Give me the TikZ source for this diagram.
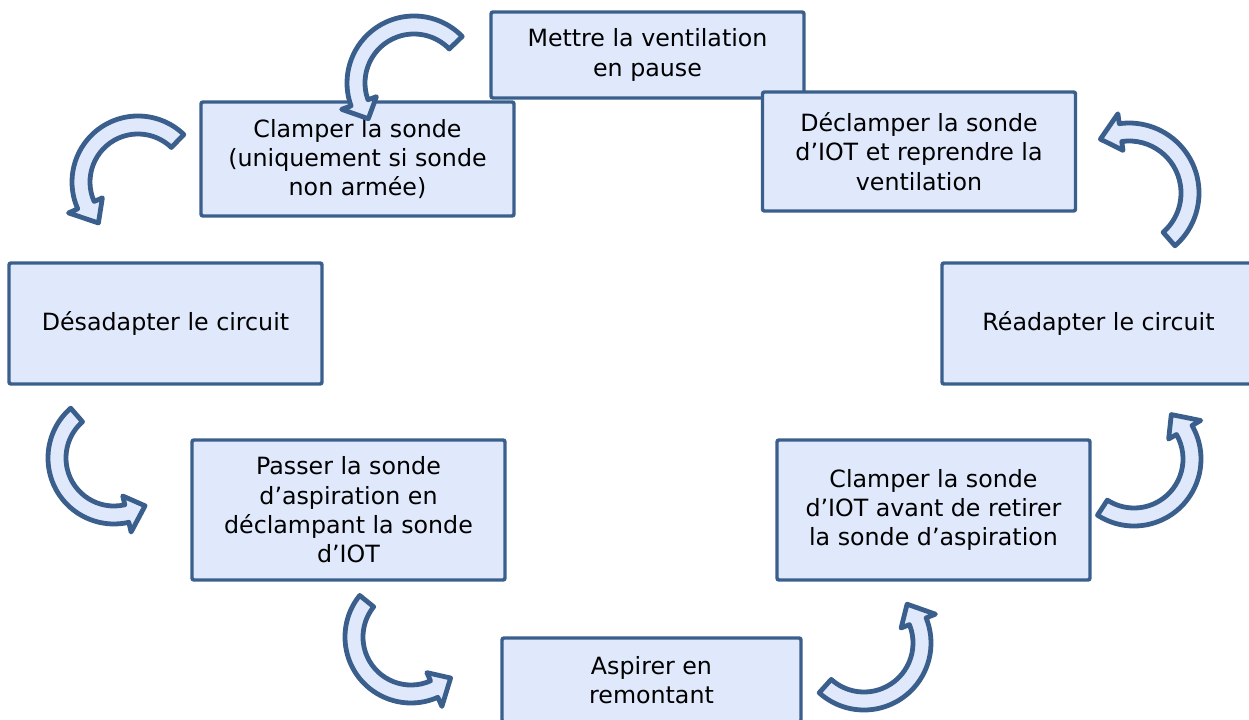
\documentclass[tikz,border=0pt]{standalone}
\usepackage{fontspec}
\setmainfont{DejaVu Sans}
\usetikzlibrary{calc}
\definecolor{bordc}{RGB}{59,95,140}
\definecolor{fillc}{RGB}{224,233,251}
\tikzset{
  box/.style={draw=bordc, fill=fillc, line width=2.6pt, rounded corners=1.5pt,
    align=center, inner sep=0pt, minimum width=234.75pt,
    font=\fontsize{17.8}{22}\selectfont},
  carrow/.style={draw=bordc, fill=fillc, line width=3.6pt, line join=round}
}
% #1 centre, #2 radius, #3 tail angle, #4 head base angle, #5 tip angle
\newcommand\circarrow[5]{%
  \pgfmathsetmacro\cro{#2+9}%
  \pgfmathsetmacro\cri{#2-9}%
  \pgfmathsetmacro\crwo{#2+19}%
  \pgfmathsetmacro\crwi{#2-18}%
  \draw[carrow] ($(#1)+(#3:\cro)$) arc[start angle=#3, end angle=#4, radius=\cro]
    -- ($(#1)+(#4:\crwo)$) -- ($(#1)+(#5:#2)$) -- ($(#1)+(#4:\crwi)$)
    -- ($(#1)+(#4:\cri)$) arc[start angle=#4, end angle=#3, radius=\cri] -- cycle;}
\begin{document}
\begin{tikzpicture}[x=0.75pt,y=-0.75pt]
\useasboundingbox (0,0) rectangle (1249,720);
\clip (0,0) rectangle (1249,720);
\node[box, minimum height=64.5pt] (b1) at (647.5,55) {Mettre la ventilation\\en pause};
\node[box, minimum height=85.5pt] (b2) at (357.5,159) {Clamper la sonde\\(uniquement si sonde\\non armée)};
\node[box, minimum height=89.25pt] (b3) at (919,151.5) {Déclamper la sonde\\d’IOT et reprendre la\\ventilation};
\node[box, minimum height=90.75pt] (b4) at (165.5,323.5) {Désadapter le circuit};
\node[box, minimum height=90.75pt] (b5) at (1098.5,323.5) {Réadapter le circuit};
\node[box, minimum height=105pt] (b6) at (348.5,510) {Passer la sonde\\d’aspiration en\\déclampant la sonde\\d’IOT};
\node[box, minimum height=105pt] (b7) at (933.5,510) {Clamper la sonde\\d’IOT avant de retirer\\la sonde d’aspiration};
\node[box, minimum height=63pt, minimum width=224.25pt] (b8) at (651.5,680) {Aspirer en\\remontant};
\coordinate (c1) at (414,83);
\coordinate (c2) at (138,182);
\coordinate (c3) at (114,458);
\coordinate (c4) at (411,637);
\coordinate (c5) at (864,643);
\coordinate (c6) at (1134,459);
\coordinate (c7) at (1129,193);
\circarrow{c1}{58}{-44}{-200}{-218}
\circarrow{c2}{57}{-46}{-204}{-226}
\circarrow{c3}{57}{229}{77}{57}
\circarrow{c4}{57}{219}{66}{46}
\circarrow{c5}{58}{132}{-22}{-42}
\circarrow{c6}{58}{123}{-30}{-50}
\circarrow{c7}{61}{49}{-98}{-118}
\end{tikzpicture}
\end{document}
